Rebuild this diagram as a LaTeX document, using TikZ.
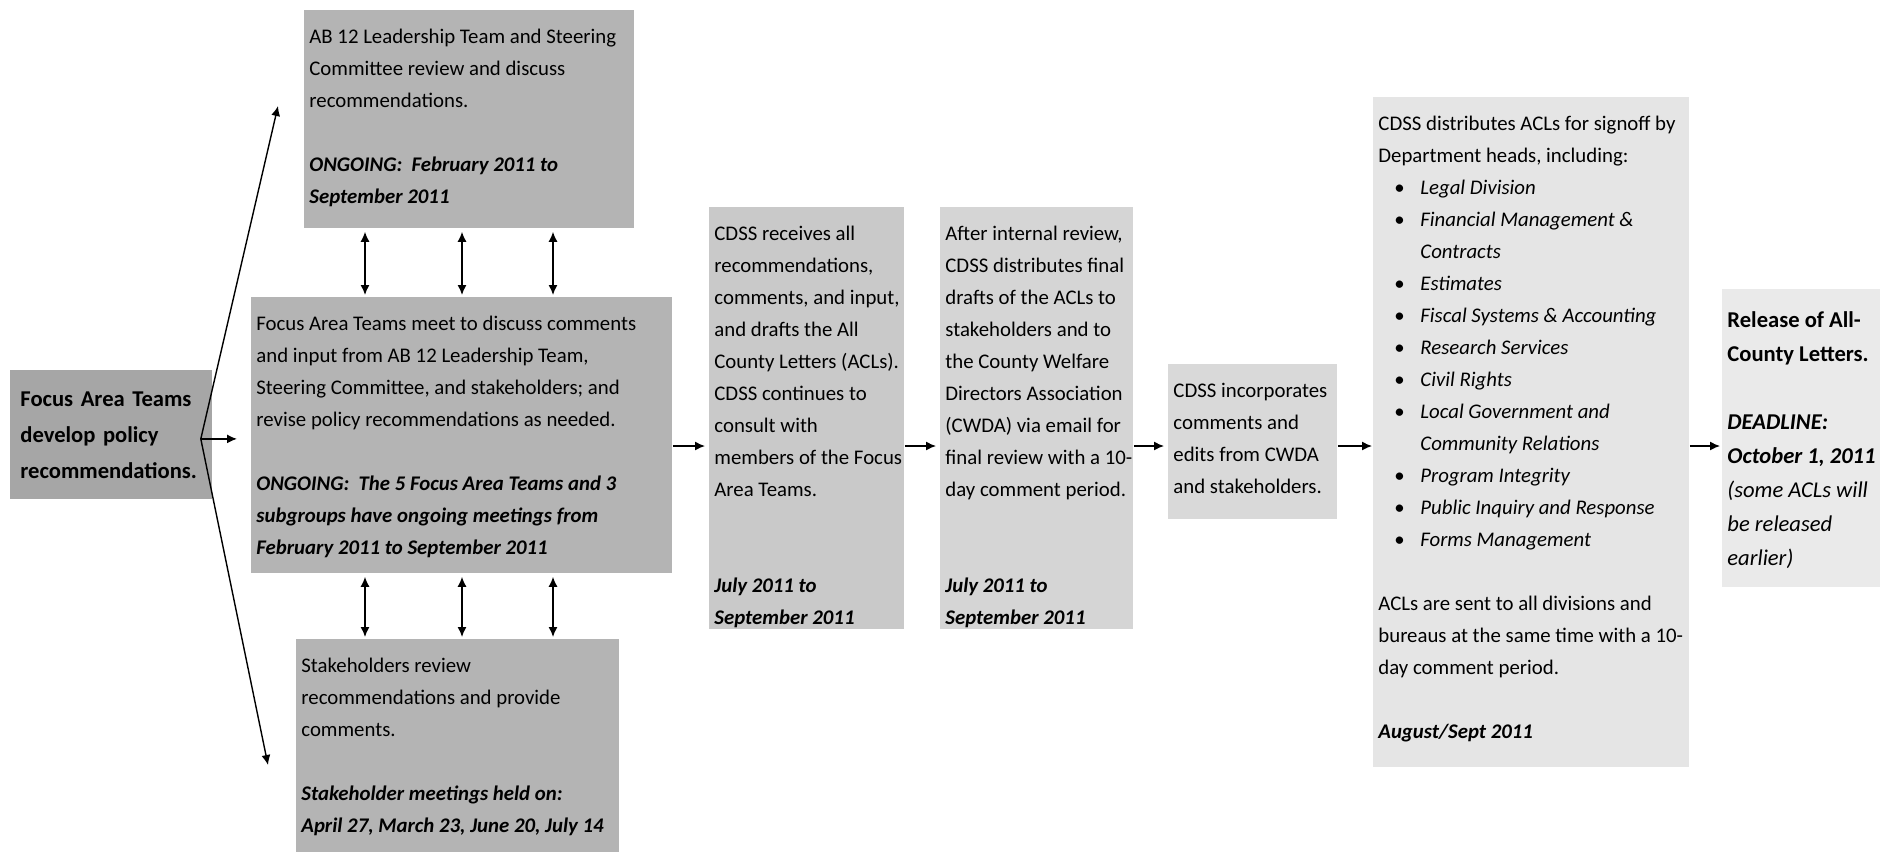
\documentclass[tikz,border=0pt]{standalone}
\usepackage{fontspec}
\setmainfont{Carlito}
\usetikzlibrary{arrows.meta}

\definecolor{DevGray}{HTML}{A6A6A6}
\definecolor{ReviewGray}{HTML}{B4B4B4}
\definecolor{DraftGray}{HTML}{C9C9C9}
\definecolor{FinalGray}{HTML}{D5D5D5}
\definecolor{EditGray}{HTML}{D9D9D9}
\definecolor{SignGray}{HTML}{E5E5E5}
\definecolor{ReleaseGray}{HTML}{EAEAEA}

\newcommand{\stagetext}[3]{\begin{minipage}[t][#2][t]{#1}\begin{tabular}[t]{@{}l@{}}#3\end{tabular}\end{minipage}}
\newcommand{\dated}[1]{\textbf{\textit{#1}}}
\newcommand{\listdot}{\makebox[21pt][l]{\hspace{8pt}\textbullet}}
\newcommand{\listgap}{\hspace*{21pt}}

\tikzstyle{StageNode}=[rectangle, anchor=north west, inner xsep=2.5pt, inner ysep=5.3pt, font=\fontsize{10.4}{16}\selectfont]
\tikzstyle{LeadNode}=[StageNode, fill=DevGray, inner xsep=5pt, inner ysep=0pt, text width=91pt, minimum height=64.5pt, align=left, font=\bfseries\fontsize{11.3}{18}\selectfont]
\tikzstyle{FlowEdge}=[->, line width=0.7pt, shorten >=2pt]
\tikzstyle{FanEdge}=[FlowEdge, shorten >=0pt]
\tikzstyle{DuplexEdge}=[<->, line width=0.7pt, shorten <=1.5pt, shorten >=1pt]
\tikzset{>={Latex[length=5pt,width=4.5pt]}}

\begin{document}
\begin{tikzpicture}[x=0.5pt, y=-0.5pt]
\useasboundingbox[fill=white] (0,0) rectangle (1889,851);

\node[LeadNode](devBox) at (10,370) {Focus Area Teams\\develop policy\\recommendations.};

\node[StageNode, fill=ReviewGray](leadBox) at (304,10) {\stagetext{160pt}{98.4pt}{AB 12 Leadership Team and Steering\\Committee review and discuss\\recommendations.\\ \\\dated{ONGOING:\ \ February 2011 to}\\\dated{September 2011}}};
\node[StageNode, fill=ReviewGray](meetBox) at (251,297) {\stagetext{205.5pt}{127.4pt}{Focus Area Teams meet to discuss comments\\and input from AB 12 Leadership Team,\\Steering Committee, and stakeholders; and\\revise policy recommendations as needed.\\ \\\dated{ONGOING:\ \ The 5 Focus Area Teams and 3}\\\dated{subgroups have ongoing meetings from}\\\dated{February 2011 to September 2011}}};
\node[StageNode, fill=ReviewGray](stakeBox) at (296,639) {\stagetext{156.5pt}{96.4pt}{Stakeholders review\\recommendations and provide\\comments.\\ \\\dated{Stakeholder meetings held on:}\\\dated{April 27, March 23, June 20, July 14}}};

\node[StageNode, fill=DraftGray](draftBox) at (709,207) {\stagetext{92.5pt}{200.4pt}{CDSS receives all\\recommendations,\\comments, and input,\\and drafts the All\\County Letters (ACLs).\\CDSS continues to\\consult with\\members of the Focus\\Area Teams.\\ \\ \\\dated{July 2011 to}\\\dated{September 2011}}};
\node[StageNode, fill=FinalGray](finalBox) at (940,207) {\stagetext{91.5pt}{200.4pt}{After internal review,\\CDSS distributes final\\drafts of the ACLs to\\stakeholders and to\\the County Welfare\\Directors Association\\(CWDA) via email for\\final review with a 10-\\day comment period.\\ \\ \\\dated{July 2011 to}\\\dated{September 2011}}};
\node[StageNode, fill=EditGray](editBox) at (1168,364) {\stagetext{79.5pt}{66.9pt}{CDSS incorporates\\comments and\\edits from CWDA\\and stakeholders.}};
\node[StageNode, fill=SignGray](signBox) at (1373,97) {\stagetext{153pt}{324.4pt}{CDSS distributes ACLs for signoff by\\Department heads, including:\\\listdot\textit{Legal Division}\\\listdot\textit{Financial Management \&}\\\listgap\textit{Contracts}\\\listdot\textit{Estimates}\\\listdot\textit{Fiscal Systems \& Accounting}\\\listdot\textit{Research Services}\\\listdot\textit{Civil Rights}\\\listdot\textit{Local Government and}\\\listgap\textit{Community Relations}\\\listdot\textit{Program Integrity}\\\listdot\textit{Public Inquiry and Response}\\\listdot\textit{Forms Management}\\ \\ACLs are sent to all divisions and\\bureaus at the same time with a 10-\\day comment period.\\ \\\dated{August/Sept 2011}}};
\node[StageNode, fill=ReleaseGray, inner ysep=7.1pt, font=\fontsize{11.3}{17}\selectfont](releaseBox) at (1722,289) {\stagetext{74pt}{134.8pt}{\textbf{Release of All-}\\\textbf{County Letters.}\\ \\\dated{DEADLINE:}\\\dated{October 1, 2011}\\\textit{(some ACLs will}\\\textit{be released}\\\textit{earlier)}}};

\coordinate (fanRoot) at ([xshift=-6pt,yshift=-2pt]devBox.east);
\coordinate (fanTop) at (278,106);
\coordinate (fanBottom) at (268,765);
\coordinate (flowLine) at (0,446);

\draw[FanEdge](fanRoot) -- (fanTop);
\draw[FanEdge](fanRoot) -- (fanBottom);
\draw[FlowEdge, shorten >=7pt](fanRoot) -- (meetBox.west |- fanRoot);

\foreach \xx in {365,462,553} {
  \draw[DuplexEdge](leadBox.south -| \xx,0) -- (meetBox.north -| \xx,0);
  \draw[DuplexEdge](meetBox.south -| \xx,0) -- (stakeBox.north -| \xx,0);
}

\draw[FlowEdge](meetBox.east |- flowLine) -- (draftBox.west |- flowLine);
\draw[FlowEdge](draftBox.east |- flowLine) -- (finalBox.west |- flowLine);
\draw[FlowEdge](finalBox.east |- flowLine) -- (editBox.west |- flowLine);
\draw[FlowEdge, shorten >=0.5pt](editBox.east |- flowLine) -- (signBox.west |- flowLine);
\draw[FlowEdge, shorten >=1pt](signBox.east |- flowLine) -- (releaseBox.west |- flowLine);
\end{tikzpicture}
\end{document}
